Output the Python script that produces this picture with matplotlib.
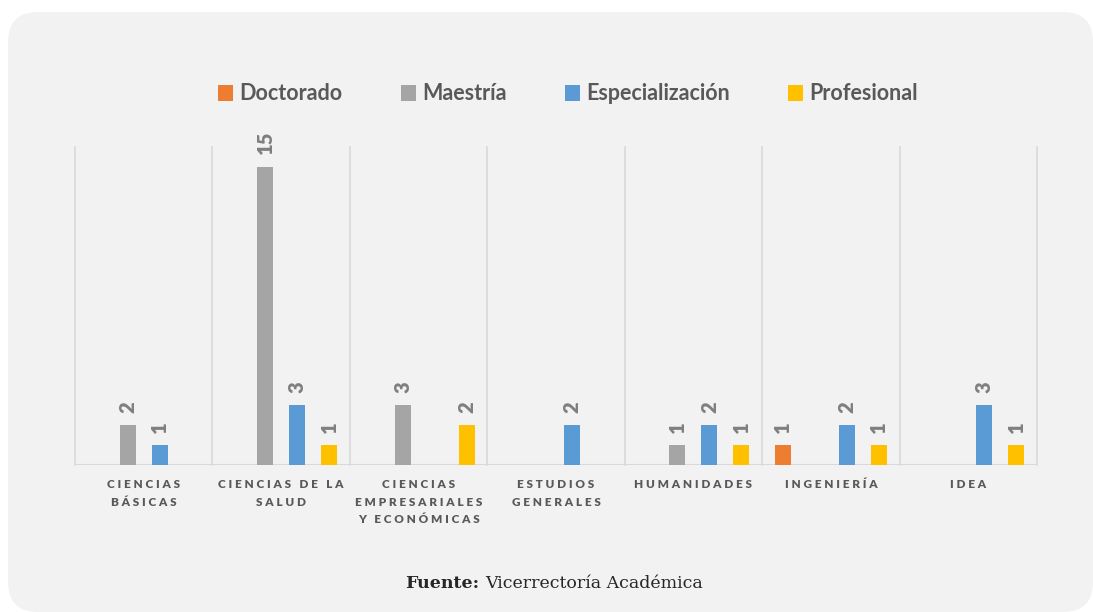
import matplotlib.pyplot as plt
import numpy as np
from matplotlib.patches import FancyBboxPatch

# datos
categorias = ['CIENCIAS\nBÁSICAS', 'CIENCIAS DE LA\nSALUD', 'CIENCIAS\nEMPRESARIALES\nY ECONÓMICAS',
              'ESTUDIOS\nGENERALES', 'HUMANIDADES', 'INGENIERÍA', 'IDEA']
series = ['Doctorado', 'Maestría', 'Especialización', 'Profesional']
doctorado = [0, 0, 0, 0, 0, 1, 0]
maestria = [2, 15, 3, 0, 1, 0, 0]
especializacion = [1, 3, 0, 2, 2, 2, 3]
profesional = [0, 1, 2, 0, 1, 1, 1]
colores = ['#ED7D31', '#A5A5A5', '#5B9BD5', '#FFC000']

TXT = '#595959'


def espaciado(s):
  # letter spacing a mano
  lineas = []
  for linea in s.split('\n'):
    palabras = [' '.join(p) for p in linea.split(' ')]
    lineas.append('   '.join(palabras))
  return '\n'.join(lineas)


fig = plt.figure(figsize=(10.93, 6.12), dpi=100)
fig.patch.set_facecolor('white')
fondo = FancyBboxPatch((0.08, 0.0), 10.85, 6.00,
                       boxstyle='round,pad=0,rounding_size=0.3',
                       transform=fig.dpi_scale_trans, facecolor='#F2F2F2',
                       edgecolor='none', zorder=-10)
fig.patches.append(fondo)

ax = fig.add_axes([75 / 1093, 1 - 465 / 612, (1037 - 75) / 1093, (465 - 147) / 612])
ax.set_facecolor('none')

x = np.arange(len(categorias))
paso = 32 / 137.4
ancho = 16 / 137.4
datos = [doctorado, maestria, especializacion, profesional]
for i, (nombre, vals, c) in enumerate(zip(series, datos, colores)):
  barras = ax.bar(x + (i - 1.5) * paso, vals, ancho, color=c, label=nombre, zorder=3)
  etiquetas = [str(v) if v else '' for v in vals]
  ax.bar_label(barras, labels=etiquetas, rotation=90, padding=9, color='#7F7F7F',
               fontsize=14.5, fontweight='heavy', family='Lato')

for xv in np.arange(-0.5, len(categorias), 1.0):
  ax.plot([xv, xv], [0, 16], color='#D9D9D9', lw=1.2, zorder=1, clip_on=False)
ax.axhline(0, color='#D9D9D9', lw=1.5, zorder=2)

ax.set_xlim(-0.5, len(categorias) - 0.5)
ax.set_ylim(0, 16)
ax.set_yticks([])
ax.set_xticks(x)
ax.set_xticklabels([espaciado(c) for c in categorias], fontsize=8.5, fontweight='heavy',
                   color=TXT, family='Lato', linespacing=1.75)
ax.tick_params(axis='x', length=0, pad=10)
for s in ax.spines.values():
  s.set_visible(False)

fig.legend(loc='center', bbox_to_anchor=(568 / 1093, 1 - 94 / 612), ncol=4, frameon=False,
           prop={'family': 'Lato', 'weight': 'bold', 'size': 15.5}, labelcolor=TXT,
           handlelength=0.7, handleheight=0.7, handletextpad=0.3, columnspacing=2.7)

t1 = fig.text(405 / 1093, 1 - 583 / 612, 'Fuente:', fontsize=12.5, fontweight='bold',
              family='DejaVu Serif', color='#262626', va='center', ha='left')
ax.annotate('Vicerrectoría Académica', xy=(1, 0.5), xytext=(4, 0), textcoords='offset points',
            xycoords=t1, fontsize=12.5, family='DejaVu Serif', color='#262626',
            va='center', ha='left', annotation_clip=False)

fig.savefig('out.png', dpi=100, facecolor=fig.get_facecolor())
